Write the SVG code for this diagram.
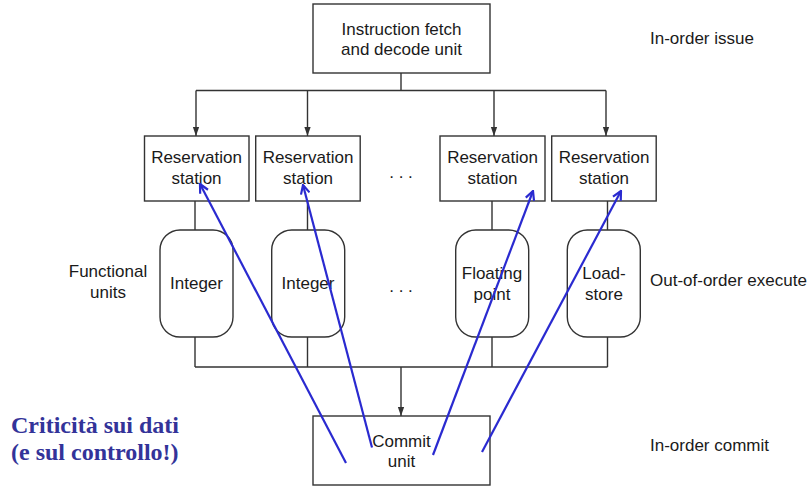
<svg xmlns="http://www.w3.org/2000/svg" width="810" height="486" viewBox="0 0 810 486">
<style>
.box{fill:#fff;stroke:#333;stroke-width:1.4}
.t{font-family:"Liberation Sans",Arial,sans-serif;font-size:17px;fill:#1a1a1a}
.m{text-anchor:middle}
.ln{fill:none;stroke:#333;stroke-width:1.4}
.bl{fill:none;stroke:#2a2ad0;stroke-width:2.2;marker-end:url(#ba)}
.crit{font-family:"Liberation Serif","Times New Roman",serif;font-size:24px;font-weight:bold;fill:#333399}
</style>
<defs>
<marker id="ga" viewBox="0 0 10 10" refX="10" refY="5" markerWidth="9" markerHeight="9" markerUnits="userSpaceOnUse" orient="auto">
<path d="M0,1.5 L10,5 L0,8.5 Z" fill="#333"/>
</marker>
<marker id="ba" viewBox="0 0 10 10" refX="9" refY="5" markerWidth="11" markerHeight="11" markerUnits="userSpaceOnUse" orient="auto">
<path d="M1,1 L9,5 L1,9" fill="none" stroke="#2a2ad0" stroke-width="2"/>
</marker>
</defs>
<rect width="810" height="486" fill="#fff"/>
<g id="connectors">
<path class="ln" d="M401,73 V90.5 M196,90.5 H606"/>
<line class="ln" x1="196" y1="90.5" x2="196" y2="136" marker-end="url(#ga)"/>
<line class="ln" x1="307.5" y1="90.5" x2="307.5" y2="136" marker-end="url(#ga)"/>
<line class="ln" x1="494" y1="90.5" x2="494" y2="136" marker-end="url(#ga)"/>
<line class="ln" x1="606" y1="90.5" x2="606" y2="136" marker-end="url(#ga)"/>
<path class="ln" d="M195,201 V230 M307.5,201 V230 M492,201 V230 M607.5,201 V230"/>
<path class="ln" d="M195,337 V367 M307.5,337 V367 M492,337 V367 M607.5,337 V367 M195,367 H607.5"/>
<line class="ln" x1="401" y1="367" x2="401" y2="416" marker-end="url(#ga)"/>
</g>
<g id="fetch">
<rect class="box" x="313" y="4" width="177" height="69"/>
<text class="t m" x="401.5" y="35">Instruction fetch</text>
<text class="t m" x="401.5" y="55">and decode unit</text>
</g>
<g id="rs1">
<rect class="box" x="144.5" y="136" width="104.5" height="65"/>
<text class="t m" x="196.5" y="163">Reservation</text>
<text class="t m" x="196.5" y="184">station</text>
</g>
<g id="rs2">
<rect class="box" x="255.7" y="136" width="104.5" height="65"/>
<text class="t m" x="308" y="163">Reservation</text>
<text class="t m" x="308" y="184">station</text>
</g>
<g id="rs3">
<rect class="box" x="440" y="136" width="105" height="65"/>
<text class="t m" x="492.5" y="163">Reservation</text>
<text class="t m" x="492.5" y="184">station</text>
</g>
<g id="rs4">
<rect class="box" x="551.7" y="136" width="104.5" height="65"/>
<text class="t m" x="604" y="163">Reservation</text>
<text class="t m" x="604" y="184">station</text>
</g>
<text class="t m" x="401" y="178">. . .</text>
<g id="fu1">
<rect class="box" x="160" y="230" width="73" height="107" rx="20" ry="20"/>
<text class="t m" x="196.5" y="289">Integer</text>
</g>
<g id="fu2">
<rect class="box" x="271.7" y="230" width="73" height="107" rx="20" ry="20"/>
<text class="t m" x="308" y="289">Integer</text>
</g>
<g id="fu3">
<rect class="box" x="455.7" y="230" width="73" height="107" rx="20" ry="20"/>
<text class="t m" x="492" y="279">Floating</text>
<text class="t m" x="492" y="300">point</text>
</g>
<g id="fu4">
<rect class="box" x="567.3" y="230" width="73" height="107" rx="20" ry="20"/>
<text class="t m" x="604" y="279">Load-</text>
<text class="t m" x="604" y="300">store</text>
</g>
<text class="t m" x="401" y="292">. . .</text>
<g id="commit">
<rect class="box" x="313" y="416" width="177" height="69"/>
<text class="t m" x="401.5" y="447">Commit</text>
<text class="t m" x="401.5" y="467">unit</text>
</g>
<g id="labels">
<text class="t m" x="108" y="277">Functional</text>
<text class="t m" x="108" y="298">units</text>
<text class="t" x="650" y="43.5">In-order issue</text>
<text class="t" x="650" y="286">Out-of-order execute</text>
<text class="t" x="650" y="451">In-order commit</text>
</g>
<g id="hazards">
<line class="bl" x1="346" y1="463" x2="200" y2="184"/>
<line class="bl" x1="372" y1="447.5" x2="303" y2="185"/>
<line class="bl" x1="433" y1="455" x2="533" y2="191"/>
<line class="bl" x1="482" y1="452" x2="621" y2="191"/>
<text class="crit" x="11" y="433">Criticità sui dati</text>
<text class="crit" x="11" y="460">(e sul controllo!)</text>
</g>
</svg>
